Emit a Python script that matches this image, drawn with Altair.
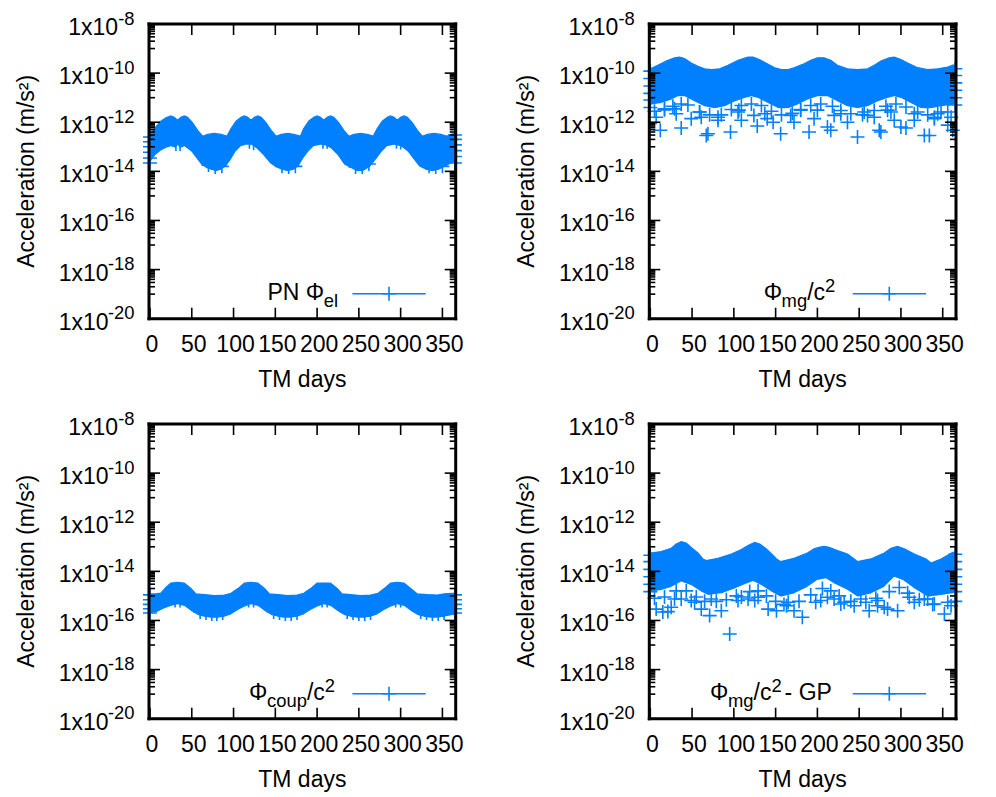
import altair as alt
import pandas as pd

BLUE = "#0080ff"
FONT = "Liberation Sans"
W, H = 306.7, 294.7
FS, FS_SMALL = 23, 18.4

# ---------------- axes ----------------
X_TICKS = [0, 50, 100, 150, 200, 250, 300, 350]
Y_MAJOR = [1e-8, 1e-10, 1e-12, 1e-14, 1e-16, 1e-18, 1e-20]
Y_EXP = ["-8", "-10", "-12", "-14", "-16", "-18", "-20"]
Y_MINOR = [m * 10.0 ** e for e in (-9, -11, -13, -15, -17, -19) for m in range(1, 10)]
Y_FLOOR = 1e-20

# ---------------- panel 1 : PN Phi_el ----------------
P1_UPPER = [(0, 2.9e-13), (7, 6.4e-13), (13, 1.1e-12), (19, 1.5e-12), (25, 1.8e-12), (29, 1.6e-12),
            (33, 1.2e-12), (37, 1.6e-12), (41, 1.8e-12), (45, 1.6e-12), (51, 9.5e-13), (57, 4.7e-13),
            (63, 2.7e-13), (69, 3.2e-13), (77, 3.5e-13), (85, 3.2e-13), (92, 2.7e-13), (97, 5.5e-13),
            (103, 1.1e-12), (109, 1.6e-12), (113, 1.8e-12), (117, 1.6e-12), (121, 1.2e-12), (125, 1.6e-12),
            (129, 1.8e-12), (133, 1.6e-12), (139, 9.5e-13), (145, 4.7e-13), (151, 2.7e-13), (157, 3.2e-13),
            (165, 3.5e-13), (172, 3.2e-13), (180, 2.7e-13), (184, 5.5e-13), (190, 1.1e-12), (196, 1.6e-12),
            (200, 1.8e-12), (204, 1.6e-12), (208, 1.2e-12), (212, 1.6e-12), (216, 1.8e-12), (220, 1.6e-12),
            (226, 9.5e-13), (232, 4.7e-13), (238, 2.7e-13), (244, 3.2e-13), (252, 3.5e-13), (260, 3.2e-13),
            (267, 2.7e-13), (272, 5.5e-13), (278, 1.1e-12), (284, 1.6e-12), (288, 1.8e-12), (292, 1.6e-12),
            (296, 1.2e-12), (300, 1.6e-12), (304, 1.8e-12), (308, 1.6e-12), (314, 9.5e-13), (320, 4.7e-13),
            (326, 2.7e-13), (332, 3.2e-13), (340, 3.5e-13), (348, 3.2e-13), (355, 2.7e-13), (362, 3.4e-13),
            (365, 3.4e-13)]
P1_LOWER = [(0, 2.1e-14), (7, 4.5e-14), (13, 6.6e-14), (19, 8.4e-14), (25, 9.9e-14), (31, 8.4e-14),
            (33, 1.08e-13), (36, 8.4e-14), (41, 9.9e-14), (49, 6.2e-14), (55, 3.3e-14), (61, 1.8e-14),
            (67, 1.3e-14), (73, 1.1e-14), (79, 9.5e-15), (85, 1.1e-14), (91, 1.5e-14), (97, 2.8e-14),
            (103, 6.2e-14), (109, 9.9e-14), (115, 1.15e-13), (121, 1.15e-13), (127, 8.4e-14), (135, 4.5e-14),
            (143, 2.1e-14), (149, 1.5e-14), (157, 1.1e-14), (165, 9.5e-15), (172, 1.1e-14), (178, 1.5e-14),
            (184, 3.3e-14), (190, 6.2e-14), (196, 9.9e-14), (204, 1.15e-13), (210, 1.08e-13), (216, 8.4e-14),
            (224, 4.5e-14), (232, 1.8e-14), (240, 1.3e-14), (248, 9.5e-15), (256, 1.0e-14), (264, 1.5e-14),
            (272, 3.3e-14), (278, 6.2e-14), (284, 9.9e-14), (292, 1.15e-13), (300, 9.9e-14), (308, 6.2e-14),
            (314, 3.3e-14), (322, 1.5e-14), (330, 1.1e-14), (338, 9.5e-15), (346, 1.1e-14), (354, 1.5e-14),
            (362, 2.1e-14), (365, 2.1e-14)]
P1_POINTS = [(0, 2.5e-13), (0, 1.6e-13), (0, 1.0e-13), (0, 6e-14), (0, 3.5e-14), (0, 2.2e-14),
             (365, 3.0e-13), (365, 2.0e-13), (365, 1.2e-13), (365, 7e-14), (365, 4e-14), (365, 2.2e-14),
             (31, 1.3e-13), (36, 1.3e-13), (119, 1.6e-13), (124, 1.4e-13), (207, 1.6e-13), (212, 1.6e-13),
             (295, 1.6e-13), (300, 1.5e-13),
             (70, 1.8e-14), (78, 1.5e-14), (86, 1.6e-14), (158, 1.6e-14), (166, 1.5e-14), (174, 1.6e-14),
             (246, 1.5e-14), (254, 1.5e-14), (262, 2.0e-14), (334, 1.6e-14), (342, 1.5e-14), (350, 1.6e-14)]

# ---------------- panel 2 : Phi_mg / c^2 ----------------
P2_UPPER = [(0, 1.5e-10), (9, 2.1e-10), (19, 3.1e-10), (29, 4.2e-10), (35, 4.5e-10), (41, 3.9e-10),
            (49, 2.6e-10), (57, 1.9e-10), (65, 1.5e-10), (73, 1.38e-10), (83, 1.5e-10), (93, 2.1e-10),
            (105, 3.3e-10), (117, 4.5e-10), (123, 4.5e-10), (131, 3.5e-10), (141, 2.3e-10), (149, 1.66e-10),
            (157, 1.38e-10), (165, 1.38e-10), (172, 1.66e-10), (184, 2.4e-10), (192, 3.3e-10), (200, 4.2e-10),
            (208, 4.2e-10), (216, 3.3e-10), (224, 2.1e-10), (236, 1.5e-10), (248, 1.38e-10), (260, 1.5e-10),
            (268, 2.1e-10), (276, 3.1e-10), (286, 4.2e-10), (292, 4.5e-10), (300, 3.6e-10), (308, 2.6e-10),
            (320, 1.66e-10), (332, 1.38e-10), (344, 1.5e-10), (356, 1.77e-10), (362, 2.1e-10), (365, 2.1e-10)]
P2_LOWER = [(0, 4.9e-12), (13, 5.7e-12), (25, 7.8e-12), (33, 1.07e-11), (41, 1.07e-11), (53, 6.6e-12),
            (65, 4.2e-12), (77, 3.5e-12), (89, 4.2e-12), (101, 6.6e-12), (113, 9.1e-12), (121, 1.07e-11),
            (129, 9.1e-12), (141, 5.7e-12), (153, 3.5e-12), (165, 3.5e-12), (176, 4.9e-12), (188, 7.8e-12),
            (200, 1.07e-11), (212, 1.07e-11), (224, 6.6e-12), (236, 4.2e-12), (248, 3.5e-12), (260, 4.2e-12),
            (272, 6.6e-12), (284, 9.1e-12), (292, 1.07e-11), (300, 9.1e-12), (312, 5.7e-12), (324, 3.5e-12),
            (336, 3.5e-12), (348, 4.2e-12), (362, 4.9e-12), (365, 4.9e-12)]
P2_POINTS = [(12, 4.7e-13), (37, 5.8e-13), (67, 2.9e-13), (69, 3.4e-13), (96, 4.0e-13), (128, 7.0e-13),
             (156, 3.4e-13), (190, 4.0e-13), (212, 6.4e-13), (216, 4.7e-13), (248, 2.5e-13), (274, 4.7e-13),
             (276, 4.0e-13), (300, 6.4e-13), (306, 5.8e-13), (328, 2.9e-13), (334, 2.9e-13), (356, 7.6e-13),
             (362, 4.7e-13),
             (7, 1.6e-12), (17, 3.5e-12), (29, 3.5e-12), (31, 2.2e-12), (49, 1.4e-12), (59, 2.6e-12),
             (61, 1.6e-12), (81, 1.2e-12), (81, 1.6e-12), (105, 2.6e-12), (106, 3.1e-12), (109, 1.2e-12),
             (124, 1.9e-12), (137, 2.2e-12), (140, 1.4e-12), (147, 1.0e-12), (168, 1.9e-12), (172, 1.0e-12),
             (180, 3.1e-12), (196, 1.4e-12), (200, 3.1e-12), (220, 1.9e-12), (228, 2.2e-12), (236, 1.0e-12),
             (256, 2.6e-12), (260, 1.9e-12), (268, 1.6e-12), (284, 3.1e-12), (288, 2.6e-12), (292, 1.2e-12),
             (316, 1.2e-12), (316, 2.2e-12), (340, 1.6e-12), (340, 1.4e-12), (348, 2.6e-12), (360, 1.6e-12),
             (5, 2.8e-12), (17, 3.2e-12), (27, 4.5e-12), (37, 5.5e-12), (45, 5.0e-12), (59, 2.6e-12),
             (71, 2.0e-12), (85, 2.0e-12), (97, 3.3e-12), (109, 4.8e-12), (121, 5.5e-12), (133, 4.8e-12),
             (145, 2.8e-12), (157, 2.0e-12), (170, 2.3e-12), (180, 3.3e-12), (192, 4.8e-12), (204, 5.5e-12),
             (218, 4.5e-12), (228, 3.0e-12), (240, 2.2e-12), (254, 2.0e-12), (268, 3.0e-12), (282, 4.5e-12),
             (294, 5.5e-12), (306, 4.2e-12), (320, 2.6e-12), (332, 2.0e-12), (344, 2.2e-12), (356, 2.6e-12),
             (0, 1.2e-10), (0, 6e-11), (0, 3e-11), (0, 1.5e-11), (0, 8e-12), (0, 4e-12),
             (365, 1.5e-10), (365, 8e-11), (365, 4e-11), (365, 2e-11), (365, 1e-11), (365, 5e-12)]

# ---------------- panel 3 : Phi_coup / c^2 ----------------
P3_UPPER = [(0, 1.2e-15), (7, 1.2e-15), (13, 1.3e-15), (19, 2.2e-15), (25, 3.3e-15), (33, 3.6e-15),
            (41, 3.3e-15), (49, 2.0e-15), (55, 1.2e-15), (65, 1.13e-15), (77, 1.03e-15), (89, 1.09e-15),
            (97, 1.28e-15), (107, 2.2e-15), (113, 3.3e-15), (121, 3.6e-15), (129, 3.3e-15), (137, 2.0e-15),
            (143, 1.2e-15), (153, 1.13e-15), (165, 1.03e-15), (176, 1.09e-15), (184, 1.28e-15), (194, 2.2e-15),
            (200, 3.3e-15), (208, 3.35e-15), (216, 3.3e-15), (224, 2.0e-15), (230, 1.2e-15), (240, 1.13e-15),
            (252, 1.03e-15), (264, 1.09e-15), (273, 1.28e-15), (282, 2.2e-15), (288, 3.3e-15), (296, 3.6e-15),
            (304, 3.3e-15), (312, 2.0e-15), (320, 1.2e-15), (332, 1.13e-15), (344, 1.09e-15), (352, 1.2e-15),
            (362, 1.28e-15), (365, 1.28e-15)]
P3_LOWER = [(0, 1.84e-16), (9, 2.15e-16), (17, 2.9e-16), (25, 3.7e-16), (33, 4.3e-16), (41, 3.7e-16),
            (49, 2.3e-16), (57, 1.58e-16), (65, 1.35e-16), (73, 1.23e-16), (81, 1.23e-16), (89, 1.35e-16),
            (97, 1.67e-16), (105, 2.5e-16), (113, 3.45e-16), (121, 4.3e-16), (129, 3.7e-16), (137, 2.3e-16),
            (145, 1.58e-16), (153, 1.35e-16), (160, 1.23e-16), (168, 1.23e-16), (176, 1.35e-16), (184, 1.67e-16),
            (192, 2.5e-16), (200, 3.45e-16), (208, 4.3e-16), (216, 3.7e-16), (224, 2.3e-16), (232, 1.58e-16),
            (240, 1.35e-16), (248, 1.23e-16), (256, 1.23e-16), (264, 1.35e-16), (272, 1.67e-16), (280, 2.5e-16),
            (288, 3.45e-16), (296, 4.3e-16), (304, 3.7e-16), (312, 2.3e-16), (320, 1.58e-16), (328, 1.35e-16),
            (336, 1.23e-16), (344, 1.23e-16), (352, 1.35e-16), (362, 1.58e-16), (365, 1.58e-16)]
P3_POINTS = [(0, 1.1e-15), (0, 7e-16), (0, 4.5e-16), (0, 3e-16), (0, 2e-16),
             (365, 1.1e-15), (365, 7e-16), (365, 4.5e-16), (365, 3e-16), (365, 2e-16),
             (30, 6.5e-16), (36, 6.5e-16), (118, 6.5e-16), (124, 6.5e-16), (206, 6.5e-16), (212, 6.5e-16),
             (294, 6.5e-16), (300, 6.5e-16),
             (60, 2.2e-16), (67, 2.0e-16), (74, 1.85e-16), (80, 1.85e-16), (87, 2.0e-16),
             (148, 2.2e-16), (155, 2.0e-16), (162, 1.85e-16), (169, 1.85e-16), (176, 2.0e-16),
             (236, 2.2e-16), (243, 2.0e-16), (250, 1.85e-16), (257, 1.85e-16), (264, 2.0e-16),
             (324, 2.2e-16), (331, 2.0e-16), (338, 1.85e-16), (345, 1.85e-16), (352, 2.0e-16)]

# ---------------- panel 4 : Phi_mg / c^2 - GP ----------------
P4_UPPER = [(0, 5.6e-14), (13, 6.4e-14), (25, 8.7e-14), (31, 1.3e-13), (37, 1.63e-13), (43, 1.43e-13),
            (49, 9.5e-14), (57, 5.6e-14), (63, 3.2e-14), (67, 2.75e-14), (81, 3.4e-14), (97, 5.1e-14),
            (109, 7.7e-14), (117, 1.12e-13), (125, 1.52e-13), (131, 1.3e-13), (139, 8.2e-14), (147, 4.4e-14),
            (152, 3.0e-14), (156, 2.5e-14), (172, 3.4e-14), (188, 5.6e-14), (196, 8.2e-14), (202, 9.5e-14),
            (208, 1.05e-13), (214, 9.5e-14), (224, 7.0e-14), (236, 5.1e-14), (244, 3.2e-14), (248, 2.5e-14),
            (264, 3.2e-14), (280, 5.6e-14), (288, 8.7e-14), (296, 1.05e-13), (304, 8.2e-14), (316, 5.1e-14),
            (330, 3.2e-14), (336, 2.2e-14), (348, 3.2e-14), (362, 6.0e-14), (365, 6.0e-14)]
P4_LOWER = [(0, 1.4e-15), (13, 1.64e-15), (25, 2.2e-15), (37, 3.6e-15), (49, 2.6e-15), (61, 1.4e-15),
            (69, 1.03e-15), (85, 1.2e-15), (101, 1.9e-15), (113, 2.8e-15), (123, 3.8e-15), (133, 2.6e-15),
            (145, 1.4e-15), (156, 8.8e-16), (172, 1.2e-15), (188, 2.2e-15), (200, 4.2e-15), (210, 4.9e-15),
            (220, 3.05e-15), (236, 1.64e-15), (248, 8.8e-16), (264, 1.2e-15), (280, 2.2e-15), (292, 5.7e-15),
            (302, 4.2e-15), (316, 1.9e-15), (332, 8.8e-16), (348, 1.03e-15), (362, 1.2e-15), (365, 1.2e-15)]
P4_POINTS = [(7, 2.9e-16), (15, 2.2e-16), (21, 2.3e-16), (25, 3.45e-16), (29, 7.5e-16), (37, 7.5e-16),
             (49, 6.5e-16), (53, 5.5e-16), (61, 2.9e-16), (71, 1.58e-16), (73, 7.5e-16), (85, 2.5e-16),
             (95, 2.8e-17), (105, 6.5e-16), (109, 9e-16), (117, 7.5e-16), (125, 6.5e-16), (129, 8.8e-16),
             (141, 2.9e-16), (151, 2.5e-16), (163, 4.0e-16), (165, 5.5e-16), (172, 2.5e-16), (182, 1.35e-16),
             (198, 5.5e-16), (204, 6.5e-16), (212, 8.8e-16), (220, 7.5e-16), (228, 4.7e-16), (232, 5.5e-16),
             (244, 4.0e-16), (252, 7.5e-16), (262, 2.5e-16), (272, 4.0e-16), (272, 6.5e-16), (280, 3.45e-16),
             (284, 2.9e-16), (296, 2.5e-16), (310, 8.8e-16), (316, 5.5e-16), (328, 7.5e-16), (332, 7.5e-16),
             (340, 4.7e-16), (352, 1.84e-16), (360, 4.0e-16),
             (5, 8e-16), (17, 9e-16), (31, 1.6e-15), (43, 1.6e-15), (55, 9e-16), (65, 6e-16), (79, 6e-16),
             (91, 7e-16), (103, 1.0e-15), (119, 1.5e-15), (129, 1.6e-15), (139, 1.0e-15), (150, 6e-16),
             (160, 4.5e-16), (178, 6e-16), (192, 1.1e-15), (206, 2.0e-15), (216, 1.6e-15), (226, 1.0e-15),
             (240, 6e-16), (258, 5.5e-16), (270, 8e-16), (286, 1.5e-15), (298, 2.2e-15), (308, 1.3e-15),
             (322, 7e-16), (338, 4.5e-16), (356, 5.5e-16),
             (0, 4.5e-14), (0, 2.5e-14), (0, 1.2e-14), (0, 6e-15), (0, 3e-15), (0, 1.5e-15),
             (365, 5e-14), (365, 2.5e-14), (365, 1.2e-14), (365, 6e-15), (365, 3e-15), (365, 1.5e-15), (365, 6e-16)]

# legend texts: (text, kind) — main / sub(script) / sup(erscript)
L1 = [("PN Φ", "main"), ("el", "sub")]
L2 = [("Φ", "main"), ("mg", "sub"), ("/c", "main"), ("2", "sup")]
L3 = [("Φ", "main"), ("coup", "sub"), ("/c", "main"), ("2", "sup")]
L4 = [("Φ", "main"), ("mg", "sub"), ("/c", "main"), ("2", "sup"), (" - GP", "main")]

# approximate advance widths (em) of Liberation Sans, to chain the legend pieces
EM = {"P": 0.667, "N": 0.722, " ": 0.278, "Φ": 0.778, "e": 0.556, "l": 0.222, "m": 0.833,
      "g": 0.556, "/": 0.278, "c": 0.5, "o": 0.556, "u": 0.556, "p": 0.556, "2": 0.556,
      "-": 0.333, "G": 0.778}

XS = alt.Scale(domain=[-1.2, 365.9], nice=False, zero=False)
YS = alt.Scale(type="log", domain=[1e-20, 1e-8], nice=False)
CROSS = "M-1,0L1,0M0,-1L0,1"
ONE = pd.DataFrame({"k": [0]})


def X(field="day"):
    return alt.X(f"{field}:Q", scale=XS, axis=None)


def Y(field="acc"):
    return alt.Y(f"{field}:Q", scale=YS, axis=None, stack=False)


def df(pairs):
    d = pd.DataFrame(pairs, columns=["day", "acc"])
    d["floor"] = Y_FLOOR
    return d


def text_layer(txt, x, y, size, align="left", angle=0):
    kw = dict(font=FONT, fontSize=size, align=align, baseline="alphabetic", color="black", text=txt)
    if angle:
        kw["angle"] = angle
    return alt.Chart(ONE).mark_text(**kw).encode(x=alt.value(x), y=alt.value(y))


def panel(upper, lower, points, legend):
    layers = []
    layers.append(alt.Chart(df(upper)).mark_area(color=BLUE, stroke=BLUE, strokeWidth=1.2, opacity=1)
                  .encode(x=X(), y=Y(), y2=alt.Y2("floor:Q")))
    layers.append(alt.Chart(df(lower)).mark_area(color="white", stroke="white", strokeWidth=1.2, opacity=1)
                  .encode(x=X(), y=Y(), y2=alt.Y2("floor:Q")))
    layers.append(alt.Chart(df(points)).mark_point(shape=CROSS, filled=False, size=196, strokeWidth=1.6,
                                                   color=BLUE, opacity=1)
                  .encode(x=X(), y=Y()))
    # ticks (inward, mirrored)
    ymaj = pd.DataFrame({"acc": Y_MAJOR, "exp": Y_EXP})
    ymin = pd.DataFrame({"acc": Y_MINOR})
    xt = pd.DataFrame({"day": X_TICKS, "lab": [str(v) for v in X_TICKS]})
    tk = dict(color="black", strokeWidth=1.6)
    layers.append(alt.Chart(ymaj).mark_rule(**tk).encode(y=Y(), x=alt.value(0), x2=alt.value(11)))
    layers.append(alt.Chart(ymaj).mark_rule(**tk).encode(y=Y(), x=alt.value(W - 11), x2=alt.value(W)))
    layers.append(alt.Chart(ymin).mark_rule(**tk).encode(y=Y(), x=alt.value(0), x2=alt.value(6)))
    layers.append(alt.Chart(ymin).mark_rule(**tk).encode(y=Y(), x=alt.value(W - 6), x2=alt.value(W)))
    layers.append(alt.Chart(xt).mark_rule(**tk).encode(x=X(), y=alt.value(H - 11), y2=alt.value(H)))
    layers.append(alt.Chart(xt).mark_rule(**tk).encode(x=X(), y=alt.value(0), y2=alt.value(11)))
    # frame
    fr = dict(color="black", strokeWidth=3, strokeCap="square")
    layers.append(alt.Chart(ONE).mark_rule(**fr).encode(x=alt.value(0), x2=alt.value(W), y=alt.value(0)))
    layers.append(alt.Chart(ONE).mark_rule(**fr).encode(x=alt.value(0), x2=alt.value(W), y=alt.value(H)))
    layers.append(alt.Chart(ONE).mark_rule(**fr).encode(y=alt.value(0), y2=alt.value(H), x=alt.value(0)))
    layers.append(alt.Chart(ONE).mark_rule(**fr).encode(y=alt.value(0), y2=alt.value(H), x=alt.value(W)))
    # x tick labels
    layers.append(alt.Chart(xt).mark_text(font=FONT, fontSize=FS, align="center", baseline="alphabetic",
                                          dx=2, color="black")
                  .encode(x=X(), y=alt.value(H + 33.3), text="lab:N"))
    # y tick labels: "1x10" + superscript exponent
    long_ = ymaj[ymaj["exp"].str.len() == 3]
    short = ymaj[ymaj["exp"].str.len() == 2]
    layers.append(alt.Chart(long_).mark_text(font=FONT, fontSize=FS, align="right", baseline="alphabetic",
                                             dy=11, color="black")
                  .encode(y=Y(), x=alt.value(-40.5), text=alt.value("1x10")))
    layers.append(alt.Chart(short).mark_text(font=FONT, fontSize=FS, align="right", baseline="alphabetic",
                                             dy=11, color="black")
                  .encode(y=Y(), x=alt.value(-31), text=alt.value("1x10")))
    layers.append(alt.Chart(ymaj).mark_text(font=FONT, fontSize=FS_SMALL, align="right", baseline="alphabetic",
                                            dy=0.5, color="black")
                  .encode(y=Y(), x=alt.value(-14.5), text="exp:N"))
    # axis titles
    layers.append(text_layer("TM days", W / 2, H + 68.3, FS, align="center"))
    layers.append(text_layer("Acceleration (m/s²)", -115, H / 2, FS, align="center", angle=270))
    # legend (key text right-aligned at x=189, sample line to the right)
    base_y = 276.0
    widths = [sum(EM.get(ch, 0.556) for ch in t) * (FS if k == "main" else FS_SMALL)
              + (3 if k == "sup" else 0) for t, k in legend]
    px = 189 - sum(widths)
    for (txt, kind), w in zip(legend, widths):
        if kind == "main":
            layers.append(text_layer(txt, px, base_y, FS))
        elif kind == "sub":
            layers.append(text_layer(txt, px, base_y + 6.7, FS_SMALL))
        else:
            layers.append(text_layer(txt, px, base_y - 8, FS_SMALL))
        px += w
    layers.append(alt.Chart(ONE).mark_rule(color=BLUE, strokeWidth=1.6)
                  .encode(x=alt.value(203.4), x2=alt.value(276.7), y=alt.value(269.7)))
    layers.append(alt.Chart(ONE).mark_point(shape=CROSS, filled=False, size=196, strokeWidth=1.6,
                                            color=BLUE, opacity=1)
                  .encode(x=alt.value(240), y=alt.value(269.7)))
    return alt.layer(*layers).properties(width=W, height=H)


p1 = panel(P1_UPPER, P1_LOWER, P1_POINTS, L1)
p2 = panel(P2_UPPER, P2_LOWER, P2_POINTS, L2)
p3 = panel(P3_UPPER, P3_LOWER, P3_POINTS, L3)
p4 = panel(P4_UPPER, P4_LOWER, P4_POINTS, L4)

chart = alt.concat(p1, p2, p3, p4, columns=2,
                   spacing=alt.RowColnumber(row=105, column=193.3),
                   bounds="flush").properties(
    padding={"left": 7, "top": 1, "right": 8, "bottom": 8}
).configure_view(strokeWidth=0)

chart.save("out.html", embed_options={"renderer": "svg", "actions": False})
